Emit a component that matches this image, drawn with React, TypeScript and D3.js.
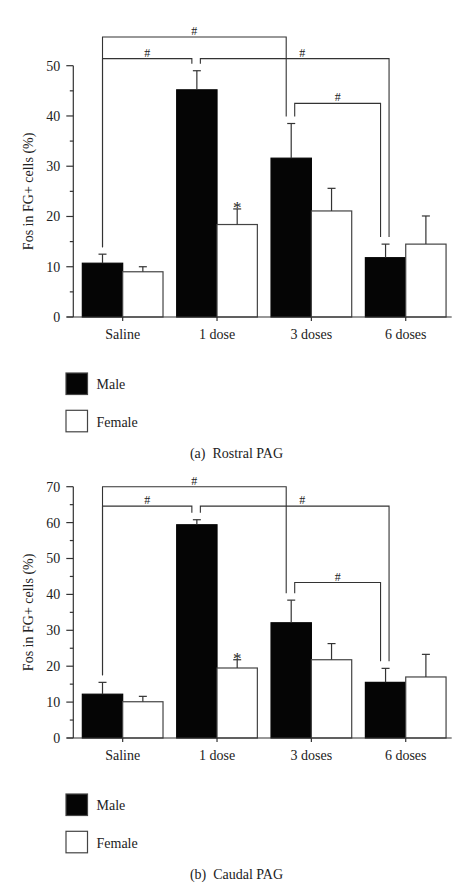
import React from "react";
import * as d3 from "d3";

const categories = ["Saline", "1 dose", "3 doses", "6 doses"];
const seriesNames = ["Male", "Female"];

// Rostral PAG (a)
const rostralMale = [10.7, 45.2, 31.6, 11.8];
const rostralMaleSem = [1.8, 3.8, 6.9, 2.7];
const rostralFemale = [9.0, 18.4, 21.1, 14.5];
const rostralFemaleSem = [1.0, 3.1, 4.5, 5.6];

// Caudal PAG (b)
const caudalMale = [12.2, 59.4, 32.1, 15.5];
const caudalMaleSem = [3.3, 1.4, 6.3, 3.9];
const caudalFemale = [10.1, 19.5, 21.8, 17.0];
const caudalFemaleSem = [1.5, 2.3, 4.5, 6.3];

// significance brackets between male bars: from, to, level (data units)
// side: -1 = left of the error bar, 0 = centred, +1 = right of the error bar
const rostralBrackets = [
  { from: "Saline", to: "3 doses", level: 55.7, fromSide: 0, toSide: -1, frac: 0.5, label: "#" },
  { from: "Saline", to: "1 dose", level: 51.4, fromSide: 0, toSide: -1, frac: 0.5, label: "#" },
  { from: "1 dose", to: "6 doses", level: 51.4, fromSide: 1, toSide: 1, frac: 0.54, label: "#" },
  { from: "3 doses", to: "6 doses", level: 42.5, fromSide: 1, toSide: -1, frac: 0.5, label: "#" },
];
const caudalBrackets = [
  { from: "Saline", to: "3 doses", level: 70.0, fromSide: 0, toSide: -1, frac: 0.5, label: "#" },
  { from: "Saline", to: "1 dose", level: 64.6, fromSide: 0, toSide: -1, frac: 0.5, label: "#" },
  { from: "1 dose", to: "6 doses", level: 64.6, fromSide: 1, toSide: 1, frac: 0.54, label: "#" },
  { from: "3 doses", to: "6 doses", level: 43.3, fromSide: 1, toSide: -1, frac: 0.5, label: "#" },
];

const starCategory = "1 dose";
const yLabel = "Fos in FG+ cells (%)";

const FONT = "'Liberation Serif', 'DejaVu Serif', serif";
const AX = "#333";

type Bracket = {
  from: string; to: string; level: number; fromSide: number; toSide: number; frac: number; label: string;
};

function Panel(props: {
  y0: number; yTop: number; yMax: number;
  male: number[]; maleSem: number[]; female: number[]; femaleSem: number[];
  brackets: Bracket[]; caption: string;
}) {
  const { y0, yTop, yMax, male, maleSem, female, femaleSem, brackets, caption } = props;
  const y = d3.scaleLinear().domain([0, yMax]).range([y0, yTop]);
  const x = d3.scaleBand<string>().domain(categories).range([75.5, 452.9]).paddingInner(0.145).paddingOuter(0.0725);
  const sub = d3.scaleBand<string>().domain(seriesNames).range([0, x.bandwidth()]);
  const axisX = 73.3;
  const major = d3.range(0, yMax + 0.001, 10);
  const minor = d3.range(5, yMax, 10);
  const data = [
    { name: "Male", vals: male, sems: maleSem, fill: "#050505" },
    { name: "Female", vals: female, sems: femaleSem, fill: "#fff" },
  ];
  const maleCenter = (c: string) => (x(c) as number) + (sub("Male") as number) + sub.bandwidth() / 2;
  const maleErrTop = (c: string) => {
    const i = categories.indexOf(c);
    return y(male[i] + maleSem[i]);
  };
  const sideOff = (s: number) => (s < 0 ? -5 : s > 0 ? 3.5 : 0);
  const gap = 7;
  const si = categories.indexOf(starCategory);
  const starX = (x(starCategory) as number) + (sub("Female") as number) + sub.bandwidth() / 2;
  const starY = y(female[si] + femaleSem[si]) + 4;

  return (
    <g>
      {/* bars */}
      {data.map((s) =>
        categories.map((c, i) => {
          const bx = (x(c) as number) + (sub(s.name) as number);
          return (
            <rect key={s.name + c} x={bx} y={y(s.vals[i])} width={sub.bandwidth()} height={y0 - y(s.vals[i])}
              fill={s.fill} stroke={s.name === "Male" ? "#050505" : "#444"} strokeWidth={1.2} />
          );
        })
      )}
      {/* error bars */}
      {data.map((s) =>
        categories.map((c, i) => {
          const cx = (x(c) as number) + (sub(s.name) as number) + sub.bandwidth() / 2;
          const top = y(s.vals[i] + s.sems[i]);
          return (
            <g key={"e" + s.name + c} stroke={AX} strokeWidth={1.2}>
              <line x1={cx} x2={cx} y1={y(s.vals[i])} y2={top} />
              <line x1={cx - 4} x2={cx + 4} y1={top} y2={top} />
            </g>
          );
        })
      )}
      {/* axes */}
      <line x1={axisX} x2={axisX} y1={y0} y2={y(yMax)} stroke={AX} strokeWidth={1.2} />
      <line x1={66.7} x2={451.7} y1={y0} y2={y0} stroke={AX} strokeWidth={1.2} />
      {major.map((t) => (
        <g key={"mt" + t}>
          <line x1={axisX - 7} x2={axisX} y1={y(t)} y2={y(t)} stroke={AX} strokeWidth={1.2} />
          <text x={axisX - 13} y={y(t)} dy="0.35em" textAnchor="end" fontSize={14} fontFamily={FONT} fill="#222">{t}</text>
        </g>
      ))}
      {minor.map((t) => (
        <line key={"mn" + t} x1={axisX - 3.5} x2={axisX} y1={y(t)} y2={y(t)} stroke={AX} strokeWidth={1.2} />
      ))}
      {categories.map((c) => {
        const cx = (x(c) as number) + x.bandwidth() / 2;
        return (
          <g key={"c" + c}>
            <line x1={cx} x2={cx} y1={y0} y2={y0 + 4} stroke={AX} strokeWidth={1.2} />
            <text x={cx} y={y0 + 22} textAnchor="middle" fontSize={14} fontFamily={FONT} fill="#222">{c}</text>
          </g>
        );
      })}
      <text transform={`translate(28.5, ${(y0 + yTop) / 2}) rotate(-90)`} textAnchor="middle" dy="0.35em"
        fontSize={14} fontFamily={FONT} fill="#222">{yLabel}</text>
      {/* brackets */}
      {brackets.map((b, k) => {
        const x1 = maleCenter(b.from) + sideOff(b.fromSide);
        const x2 = maleCenter(b.to) + sideOff(b.toSide);
        const ly = y(b.level);
        const e1 = maleErrTop(b.from) - gap;
        const e2 = maleErrTop(b.to) - gap;
        return (
          <g key={"b" + k}>
            <path d={`M${x1},${e1}V${ly}H${x2}V${e2}`} fill="none" stroke={AX} strokeWidth={1.1} />
            <text x={x1 + (x2 - x1) * b.frac} y={ly - 2} textAnchor="middle" fontSize={12} fontFamily={FONT} fill="#222">{b.label}</text>
          </g>
        );
      })}
      <text x={starX} y={starY} textAnchor="middle" fontSize={17} fontFamily={FONT} fill="#222">*</text>
      {/* legend */}
      {data.map((s, i) => (
        <g key={"l" + s.name}>
          <rect x={66} y={y0 + 56 + i * 37.3} width={21.5} height={21.5} fill={s.fill} stroke="#444" strokeWidth={1.2} />
          <text x={96.5} y={y0 + 71.5 + i * 38.5} fontSize={14} fontFamily={FONT} fill="#222">{s.name}</text>
        </g>
      ))}
      <text x={236.5} y={y0 + 141} textAnchor="middle" fontSize={14} fontFamily={FONT} fill="#222">{caption}</text>
    </g>
  );
}

export default function App() {
  return (
    <div style={{ position: "absolute", left: 0, top: 0 }}>
      <svg width={473} height={890} style={{ display: "block", background: "#fff" }}>
        <Panel y0={317} yTop={65.7} yMax={50} male={rostralMale} maleSem={rostralMaleSem}
          female={rostralFemale} femaleSem={rostralFemaleSem} brackets={rostralBrackets}
          caption={"(a)\u00a0\u00a0Rostral PAG"} />
        <Panel y0={738} yTop={486.7} yMax={70} male={caudalMale} maleSem={caudalMaleSem}
          female={caudalFemale} femaleSem={caudalFemaleSem} brackets={caudalBrackets}
          caption={"(b)\u00a0\u00a0Caudal PAG"} />
      </svg>
    </div>
  );
}
